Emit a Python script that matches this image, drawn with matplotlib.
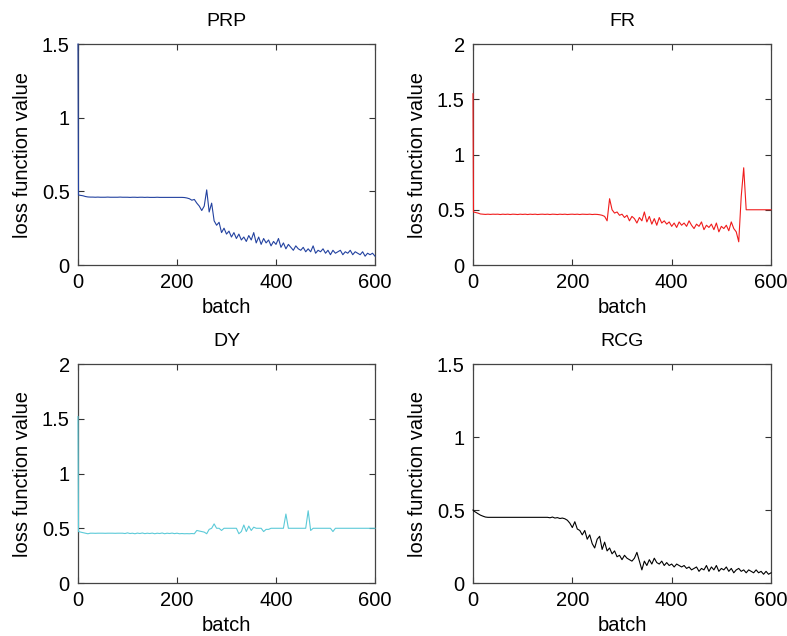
import numpy as np
import matplotlib
matplotlib.use('Agg')
import matplotlib.pyplot as plt

plt.rcParams['font.family'] = ['Liberation Sans', 'DejaVu Sans']

# batch index of every value below (start, right after the first drop, then every 5 batches)
batch = np.r_[0, 1, np.arange(10, 601, 5)]

# loss values
prp_loss = [
    1.50, 0.475, 0.470, 0.465, 0.462, 0.461, 0.461, 0.460, 0.461, 0.460,
    0.460, 0.460, 0.461, 0.460, 0.460, 0.460, 0.460, 0.461, 0.460, 0.460,
    0.460, 0.459, 0.460, 0.460, 0.459, 0.460, 0.460, 0.459, 0.460, 0.459,
    0.459, 0.459, 0.460, 0.459, 0.459, 0.459, 0.459, 0.459, 0.459, 0.459,
    0.459, 0.459, 0.459, 0.458, 0.455, 0.450, 0.440, 0.445, 0.420, 0.400,
    0.370, 0.400, 0.510, 0.360, 0.420, 0.300, 0.270, 0.290, 0.220, 0.250,
    0.210, 0.230, 0.190, 0.220, 0.180, 0.210, 0.170, 0.190, 0.160, 0.200,
    0.170, 0.220, 0.150, 0.190, 0.140, 0.180, 0.150, 0.170, 0.130, 0.160,
    0.140, 0.180, 0.120, 0.150, 0.110, 0.140, 0.120, 0.100, 0.130, 0.110,
    0.100, 0.120, 0.090, 0.110, 0.090, 0.130, 0.080, 0.100, 0.090, 0.110,
    0.080, 0.100, 0.070, 0.100, 0.080, 0.090, 0.100, 0.070, 0.090, 0.080,
    0.100, 0.070, 0.090, 0.080, 0.070, 0.090, 0.060, 0.080, 0.070, 0.080,
    0.060]

fr_loss = [
    1.55, 0.480, 0.470, 0.462, 0.460, 0.458, 0.460, 0.458, 0.460, 0.459,
    0.460, 0.457, 0.460, 0.458, 0.460, 0.457, 0.460, 0.459, 0.457, 0.460,
    0.458, 0.460, 0.457, 0.460, 0.458, 0.460, 0.457, 0.459, 0.460, 0.458,
    0.460, 0.457, 0.460, 0.459, 0.457, 0.460, 0.458, 0.460, 0.457, 0.459,
    0.460, 0.458, 0.460, 0.457, 0.460, 0.459, 0.458, 0.460, 0.457, 0.459,
    0.458, 0.455, 0.450, 0.440, 0.400, 0.600, 0.500, 0.470, 0.480, 0.450,
    0.460, 0.430, 0.450, 0.400, 0.440, 0.420, 0.380, 0.430, 0.400, 0.480,
    0.390, 0.440, 0.370, 0.420, 0.360, 0.430, 0.380, 0.400, 0.370, 0.390,
    0.350, 0.380, 0.340, 0.390, 0.360, 0.380, 0.350, 0.400, 0.360, 0.330,
    0.370, 0.350, 0.390, 0.320, 0.360, 0.340, 0.370, 0.320, 0.380, 0.300,
    0.350, 0.330, 0.360, 0.310, 0.390, 0.330, 0.300, 0.210, 0.620, 0.880,
    0.500, 0.500, 0.500, 0.500, 0.500, 0.500, 0.500, 0.500, 0.500, 0.500,
    0.500]

dy_loss = [
    1.52, 0.470, 0.460, 0.455, 0.450, 0.455, 0.455, 0.454, 0.455, 0.455,
    0.455, 0.454, 0.455, 0.455, 0.455, 0.454, 0.455, 0.455, 0.455, 0.452,
    0.458, 0.452, 0.455, 0.450, 0.456, 0.452, 0.457, 0.451, 0.455, 0.452,
    0.456, 0.450, 0.455, 0.452, 0.457, 0.450, 0.455, 0.452, 0.456, 0.451,
    0.455, 0.450, 0.452, 0.450, 0.451, 0.450, 0.452, 0.450, 0.480, 0.475,
    0.470, 0.465, 0.450, 0.490, 0.500, 0.540, 0.500, 0.500, 0.480, 0.500,
    0.500, 0.500, 0.500, 0.500, 0.500, 0.450, 0.470, 0.530, 0.470, 0.520,
    0.480, 0.510, 0.500, 0.500, 0.500, 0.470, 0.490, 0.490, 0.500, 0.500,
    0.500, 0.500, 0.500, 0.500, 0.630, 0.500, 0.500, 0.500, 0.500, 0.500,
    0.500, 0.500, 0.500, 0.660, 0.480, 0.500, 0.500, 0.500, 0.500, 0.500,
    0.500, 0.500, 0.500, 0.470, 0.500, 0.500, 0.500, 0.500, 0.500, 0.500,
    0.500, 0.500, 0.500, 0.500, 0.500, 0.500, 0.500, 0.500, 0.500, 0.500,
    0.500]

rcg_loss = [
    0.500, 0.495, 0.475, 0.465, 0.458, 0.452, 0.450, 0.450, 0.450, 0.450,
    0.450, 0.450, 0.450, 0.450, 0.450, 0.450, 0.450, 0.450, 0.450, 0.450,
    0.450, 0.450, 0.450, 0.450, 0.450, 0.450, 0.450, 0.450, 0.450, 0.450,
    0.450, 0.447, 0.452, 0.445, 0.448, 0.442, 0.445, 0.440, 0.430, 0.410,
    0.380, 0.420, 0.370, 0.360, 0.330, 0.360, 0.300, 0.330, 0.270, 0.240,
    0.300, 0.320, 0.230, 0.280, 0.220, 0.240, 0.200, 0.220, 0.180, 0.190,
    0.160, 0.190, 0.170, 0.160, 0.150, 0.170, 0.210, 0.150, 0.090, 0.150,
    0.120, 0.160, 0.130, 0.170, 0.140, 0.130, 0.150, 0.120, 0.140, 0.120,
    0.130, 0.110, 0.130, 0.120, 0.110, 0.120, 0.100, 0.110, 0.090, 0.100,
    0.110, 0.080, 0.100, 0.090, 0.120, 0.080, 0.110, 0.090, 0.120, 0.080,
    0.100, 0.090, 0.110, 0.080, 0.100, 0.070, 0.090, 0.100, 0.080, 0.090,
    0.070, 0.090, 0.080, 0.070, 0.090, 0.070, 0.080, 0.060, 0.080, 0.060,
    0.070]

titles = ['PRP', 'FR', 'DY', 'RCG']
series = [prp_loss, fr_loss, dy_loss, rcg_loss]
colors = ['#2342a0', '#f01c1c', '#5ccad8', '#000000']
ymaxes = [1.5, 2, 2, 1.5]
xticks = [0, 200, 400, 600]

fig = plt.figure(figsize=(7.87, 6.36), dpi=100)

# axes boxes in figure fractions (left, bottom, width, height)
boxes = [
    [0.0991, 0.5833, 0.3774, 0.3475],
    [0.6010, 0.5833, 0.3787, 0.3475],
    [0.0991, 0.0833, 0.3774, 0.3443],
    [0.6010, 0.0833, 0.3787, 0.3443],
]

for box, title, loss, color, ymax in zip(boxes, titles, series, colors, ymaxes):
    ax = fig.add_axes(box)
    for s in ax.spines.values():
        s.set_color('#444444')
        s.set_linewidth(0.9)
    # drawn above the spines so the first drop at batch 0 stays visible
    ax.plot(batch, loss, color=color, lw=0.8, zorder=3, clip_on=False)
    ax.set_xlim(0, 600)
    ax.set_ylim(0, ymax)
    ax.set_xticks(xticks)
    ax.set_yticks(np.arange(0, ymax + 0.01, 0.5))
    ax.set_yticklabels(['0', '0.5', '1', '1.5', '2'][:len(ax.get_yticks())])
    ax.tick_params(direction='in', top=True, right=True, length=4,
                   width=0.8, color='#333333', labelsize=14.5, pad=6)
    ax.set_title(title, fontsize=14, pad=13)
    ax.set_xlabel('batch', fontsize=14.5, labelpad=4)
    ax.set_ylabel('loss function value', fontsize=14.5, labelpad=7)

fig.savefig('out.png', dpi=100)
